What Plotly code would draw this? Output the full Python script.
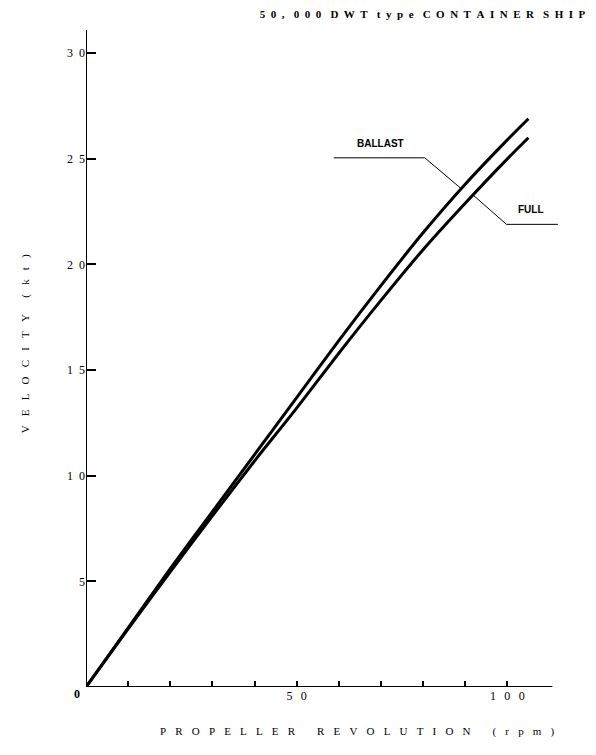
import plotly.graph_objects as go

# Data
rpm = [0, 10, 20, 30, 40, 50, 60, 70, 80, 90, 100, 105]
ballast_kt = [0, 2.8, 5.6, 8.3, 11.0, 13.7, 16.4, 19.0, 21.5, 23.8, 25.9, 26.9]
full_kt = [0, 2.75, 5.45, 8.1, 10.7, 13.2, 15.8, 18.3, 20.7, 22.9, 25.0, 26.0]

EN = "\u2002"
EM = "\u2003"
THIN = "\u2009"
THREE = "\u2004"


def spaced(txt, gap, wordgap=None):
    if wordgap is None:
        wordgap = gap * 2
    return wordgap.join(gap.join(list(w)) for w in txt.split(" "))


y_tickvals = [5, 10, 15, 20, 25, 30]
y_ticktext = [spaced(str(v), EN) for v in y_tickvals]
x_tickvals = [10, 20, 30, 40, 50, 60, 70, 80, 90, 100]
x_ticktext = [spaced(str(v), EN + THIN) if v in (50, 100) else "" for v in x_tickvals]

X_MAX_AXIS = 110.7
Y_MAX_AXIS = 31.1

SERIF = "Liberation Serif, DejaVu Serif, serif"

fig = go.Figure()
fig.add_trace(go.Scatter(x=rpm, y=ballast_kt, mode="lines", name="BALLAST",
                         line=dict(color="black", width=3, shape="spline", smoothing=0.8)))
fig.add_trace(go.Scatter(x=rpm, y=full_kt, mode="lines", name="FULL",
                         line=dict(color="black", width=3, shape="spline", smoothing=0.8)))

# axis lines
fig.add_shape(type="line", x0=0, y0=0, x1=X_MAX_AXIS, y1=0, xref="x", yref="y",
              line=dict(color="black", width=2))
fig.add_shape(type="line", x0=0, y0=0, x1=0, y1=Y_MAX_AXIS, xref="x", yref="y",
              line=dict(color="black", width=2))

# leader lines
fig.add_shape(type="path", path="M 58.8,25.05 L 80.4,25.05 L 89.0,23.6",
              xref="x", yref="y", line=dict(color="black", width=1))
fig.add_shape(type="path", path="M 91.8,23.3 L 99.8,21.9 L 112.0,21.9",
              xref="x", yref="y", line=dict(color="black", width=1))

LBL = dict(family="Liberation Sans Narrow, Liberation Sans, sans-serif", size=10, color="black")
fig.add_annotation(x=69.8, y=25.75, xref="x", yref="y", text="<b>BALLAST</b>",
                   showarrow=False, font=LBL)
fig.add_annotation(x=105.7, y=22.6, xref="x", yref="y", text="<b>FULL</b>",
                   showarrow=False, font=LBL)

# origin label
fig.add_annotation(x=-0.0296, y=-0.024, xref="paper", yref="paper", text="<b>0</b>",
                   showarrow=False, font=dict(family=SERIF, size=12, color="black"))

# axis titles
fig.add_annotation(x=0.572, y=-0.081, xref="paper", yref="paper",
                   text=spaced("PROPELLER REVOLUTION (rpm)", EN + THREE, EM + EM),
                   showarrow=False, font=dict(family=SERIF, size=11, color="black"))
fig.add_annotation(x=-0.146, y=0.522, xref="paper", yref="paper", textangle=-90,
                   text=spaced("VELOCITY (kt)", EN + THREE, EM + EN),
                   showarrow=False, font=dict(family=SERIF, size=11, color="black"))

fig.update_layout(
    width=588, height=747,
    margin=dict(l=78, r=36, t=22, b=68, autoexpand=False),
    paper_bgcolor="white", plot_bgcolor="white",
    showlegend=False,
    title=dict(text="<b>" + spaced("50, 000 DWT type CONTAINER SHIP", EN, EN + THREE) + "</b>",
               x=0.705, y=0.992, xanchor="center", yanchor="middle",
               font=dict(family=SERIF, size=11, color="black")),
    xaxis=dict(range=[0, 112.5], showgrid=False, zeroline=False, showline=False,
               automargin=False,
               tickmode="array", tickvals=x_tickvals, ticktext=x_ticktext,
               ticks="inside", ticklen=6, tickwidth=2, tickcolor="black",
               tickfont=dict(family=SERIF, size=12, color="black")),
    yaxis=dict(range=[0, 31.1], showgrid=False, zeroline=False, showline=False,
               automargin=False,
               tickmode="array", tickvals=y_tickvals, ticktext=y_ticktext,
               ticks="inside", ticklen=10, tickwidth=2, tickcolor="black",
               tickfont=dict(family=SERIF, size=12, color="black")),
)

fig.write_html("out.html")
